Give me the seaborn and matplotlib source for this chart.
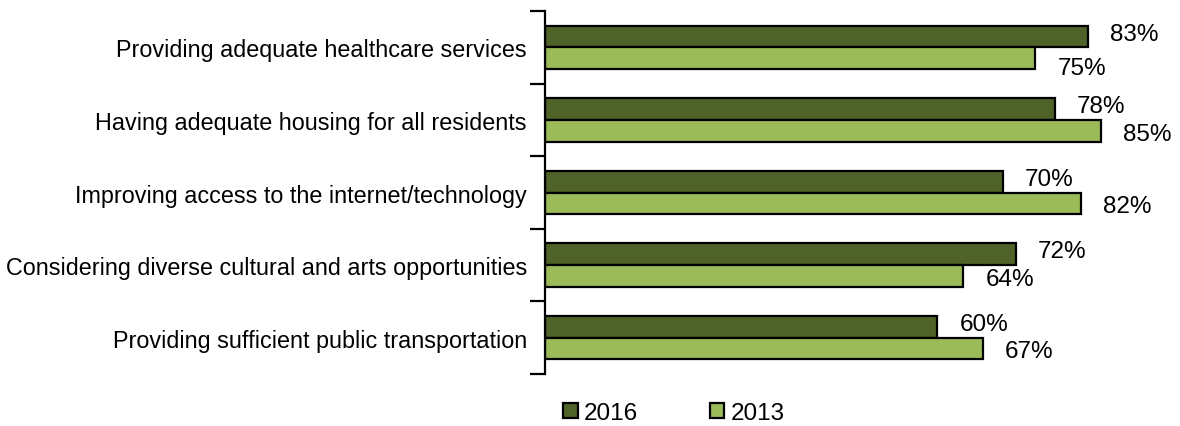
import numpy as np
import pandas as pd
import seaborn as sns
import matplotlib.pyplot as plt
from matplotlib.patches import Patch

categories = [
    "Providing adequate healthcare services",
    "Having adequate housing for all residents",
    "Improving access to the internet/technology",
    "Considering diverse cultural and arts opportunities",
    "Providing sufficient public transportation",
]
years = ["2016", "2013"]
values_2016 = [83, 78, 70, 72, 60]
values_2013 = [75, 85, 82, 64, 67]
colors = ["#4F6228", "#9BBB59"]

df = pd.DataFrame({
    "category": categories * 2,
    "year": [years[0]] * 5 + [years[1]] * 5,
    "value": values_2016 + values_2013,
})

sns.set_style("white")
plt.rcParams["font.family"] = ["Liberation Sans", "DejaVu Sans"]
plt.rcParams["text.color"] = "black"
plt.rcParams["ytick.color"] = "black"

fig = plt.figure(figsize=(11.8, 4.27), dpi=100)
ax = fig.add_axes([545 / 1180, 52 / 427, 621 / 1180, 363 / 427])

sns.barplot(data=df, y="category", x="value", hue="year", orient="h",
            palette=colors, saturation=1, width=0.6, edgecolor="black",
            linewidth=1.6, ax=ax, legend=False)

ax.set_xlim(0, 95)
ax.set_ylim(4.5, -0.5)
ax.set_xlabel("")
ax.set_ylabel("")
ax.set_xticks([])
for s in ["top", "right", "bottom"]:
    ax.spines[s].set_visible(False)
ax.spines["left"].set_linewidth(1.6)
ax.spines["left"].set_color("black")

# category labels at centers, tick marks at boundaries
ax.tick_params(axis="y", which="major", length=0, pad=13, labelsize=16.8,
               labelcolor="black")
ax.set_yticks(np.arange(-0.5, 5, 1), minor=True)
ax.tick_params(axis="y", which="minor", length=11, width=1.6, color="black",
               direction="out", left=True)

# value labels
offsets = [2, -2]
series = [values_2016, values_2013]
for cont, vals, dy in zip(ax.containers, series, offsets):
    for bar, v in zip(cont.patches, vals):
        y = bar.get_y() + bar.get_height() / 2
        dyy = dy
        if v == 75:
            dyy = -7
        ax.annotate(f"{v}%", xy=(bar.get_width(), y), xytext=(16, dyy),
                    textcoords="offset points", ha="left", va="center",
                    fontsize=17.5, color="black", annotation_clip=False)

handles = [Patch(facecolor=c, edgecolor="black", linewidth=1.6) for c in colors]
fig.legend(handles, years, loc="center", bbox_to_anchor=(674 / 1180, 1 - 414 / 427),
           ncol=2, frameon=False, fontsize=17.5, handlelength=0.6, handleheight=0.6,
           handletextpad=0.25, columnspacing=2.95)

fig.savefig("out.png", dpi=100)
